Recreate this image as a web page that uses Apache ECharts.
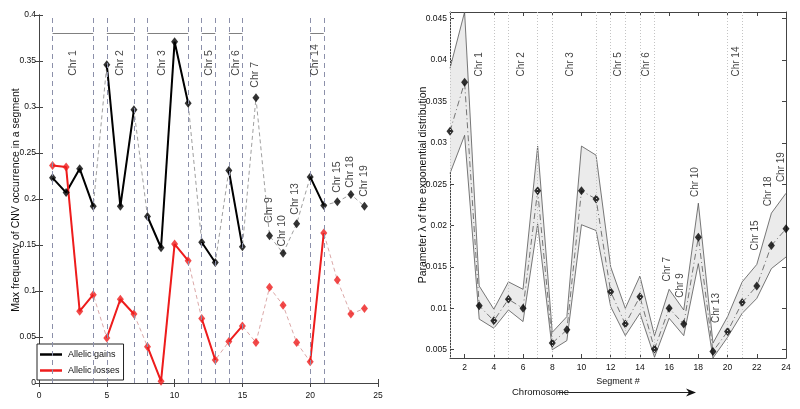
<!DOCTYPE html>
<html><head><meta charset="utf-8">
<script src="https://cdn.jsdelivr.net/npm/echarts@6/dist/echarts.min.js"></script>
<style>html,body{margin:0;padding:0;background:#fff}#c{width:800px;height:409px}</style>
</head><body><div id="c"></div>
<script>
// ---------- DATA ----------
const segments = [1,2,3,4,5,6,7,8,9,10,11,12,13,14,15,16,17,18,19,20,21,22,23,24];
const gainsFreq = [0.223,0.207,0.233,0.192,0.346,0.192,0.297,0.181,0.147,0.371,0.304,0.153,0.131,0.231,0.148,0.310,0.160,0.141,0.173,0.224,0.193,0.197,0.205,0.192];
const lossesFreq = [0.2365,0.2347,0.078,0.096,0.049,0.091,0.075,0.0395,0.002,0.151,0.133,0.070,0.025,0.045,0.062,0.044,0.104,0.0845,0.044,0.023,0.163,0.112,0.075,0.081];
const lambdaMean  = [0.0314,0.0373,0.0103,0.0085,0.0111,0.0100,0.0242,0.0058,0.0074,0.0242,0.0232,0.0120,0.0081,0.0114,0.0051,0.0100,0.0081,0.0186,0.0048,0.0072,0.0107,0.0127,0.0176,0.0196];
const lambdaUpper = [0.0390,0.0458,0.0127,0.0099,0.0132,0.0123,0.0296,0.0071,0.0090,0.0296,0.0285,0.0150,0.0100,0.0139,0.0067,0.0123,0.0098,0.0227,0.0058,0.0090,0.0132,0.0153,0.0215,0.0239];
const lambdaLower = [0.0263,0.0309,0.0087,0.0076,0.0098,0.0084,0.0202,0.0050,0.0061,0.0201,0.0194,0.0102,0.0067,0.0094,0.0041,0.0088,0.0067,0.0154,0.0040,0.0065,0.0094,0.0112,0.0148,0.0162];
const chrBoundaries = [1,4,5,7,8,11,12,13,14,15,20,21];
const groupStart = [1,5,8,12,14,20];
const groupEnd   = [4,7,11,13,15,21];
const groupNames = ['Chr 1','Chr 2','Chr 3','Chr 5','Chr 6','Chr 14'];
const singleSegs  = [16,17,18,19,22,23,24];
const singleNames = ['Chr 7','Chr 9','Chr 10','Chr 13','Chr 15','Chr 18','Chr 19'];
const leftYTicks = [0,0.05,0.1,0.15,0.2,0.25,0.3,0.35,0.4];
const leftXTicks = [0,5,10,15,20,25];
const rightXTicks = [2,4,6,8,10,12,14,16,18,20,22,24];
const rightYTicks = [0.005,0.01,0.015,0.02,0.025,0.03,0.035,0.04,0.045];

// annotation anchors (data units)
const leftGroupLabelX = [2.49,5.98,9.06,12.55,14.53,20.38];
const leftGroupLabelY = 0.334;
const leftSingleLabel = [[15.97,0.321],[16.94,0.174],[17.92,0.1483],[18.9,0.183],[21.98,0.2067],[22.97,0.2122],[24.0,0.2024]];
const rightGroupLabelX = [3.03,5.89,9.2,12.5,14.45,20.6];
const rightGroupLabelY = 0.038;
const rightSingleLabel = [[15.87,0.01325],[16.78,0.01128],[17.81,0.02344],[19.25,0.00822],[21.88,0.017],[22.79,0.02232],[23.7,0.02525]];

// ---------- BUILD ----------
const FONT = "'Liberation Sans Narrow','Liberation Sans',Arial,sans-serif";
const pairs = (vals) => segments.map((x,i)=>[x, vals[i]]);
function grouped(vals){
  const out=[];
  groupStart.forEach((s,g)=>{
    for(let x=s;x<=groupEnd[g];x++) out.push([x, vals[x-1]]);
    out.push([groupEnd[g]+0.5, null]);
  });
  return out;
}
const RED = '#ee1c1c';
const axisCol = '#444';
const TICKFS = 8.5;
const tickInside = {show:true, inside:true, length:4, lineStyle:{color:axisCol}};
const labelText = () => ({show:true, position:'top', distance:0, rotate:90, align:'left', verticalAlign:'middle',
  formatter: p=>p.name, color:'#111', fontSize:10.5, fontFamily:FONT});

const option = {
  animation:false,
  backgroundColor:'#fff',
  grid:[
    {left:39, top:15, width:339, height:368, outerBoundsMode:'none', containLabel:false},
    {left:450, top:12, width:336, height:346, outerBoundsMode:'none', containLabel:false}
  ],
  xAxis:[
    {type:'value', gridIndex:0, min:0, max:25, interval:5, axisLine:{show:true,lineStyle:{color:axisCol}}, axisTick:tickInside,
      axisLabel:{color:'#111', fontSize:TICKFS, fontFamily:FONT, margin:8}, splitLine:{show:false}},
    {type:'value', gridIndex:0, position:'top', min:0, max:25, interval:5, axisLine:{show:true,lineStyle:{color:axisCol}}, axisTick:tickInside,
      axisLabel:{show:false}, splitLine:{show:false}},
    {type:'value', gridIndex:1, min:1, max:24, axisLine:{show:true,lineStyle:{color:axisCol}},
      axisTick:Object.assign({customValues:rightXTicks}, tickInside),
      axisLabel:{customValues:rightXTicks, color:'#111', fontSize:TICKFS, fontFamily:FONT, margin:5}, splitLine:{show:false},
      name:'Segment #', nameLocation:'middle', nameGap:15, nameTextStyle:{color:'#111', fontSize:9, fontFamily:FONT}},
    {type:'value', gridIndex:1, position:'top', min:1, max:24, axisLine:{show:true,lineStyle:{color:axisCol}},
      axisTick:Object.assign({customValues:rightXTicks}, tickInside), axisLabel:{show:false}, splitLine:{show:false}}
  ],
  yAxis:[
    {type:'value', gridIndex:0, min:0, max:0.4, interval:0.05, axisLine:{show:true,lineStyle:{color:axisCol}}, axisTick:tickInside,
      axisLabel:{color:'#111', fontSize:TICKFS, fontFamily:FONT, margin:3}, splitLine:{show:false}},
    {type:'value', gridIndex:0, position:'right', min:0, max:0.4, interval:0.05, axisLine:{show:true,lineStyle:{color:axisCol}}, axisTick:tickInside,
      axisLabel:{show:false}, splitLine:{show:false}},
    {type:'value', gridIndex:1, min:0.004, max:0.0458, axisLine:{show:true,lineStyle:{color:axisCol}},
      axisTick:Object.assign({customValues:rightYTicks}, tickInside),
      axisLabel:{customValues:rightYTicks, color:'#111', fontSize:TICKFS, fontFamily:FONT, margin:3}, splitLine:{show:false}},
    {type:'value', gridIndex:1, position:'right', min:0.004, max:0.0458, axisLine:{show:true,lineStyle:{color:axisCol}},
      axisTick:Object.assign({customValues:rightYTicks}, tickInside), axisLabel:{show:false}, splitLine:{show:false}}
  ],
  legend:{
    left:37, top:344, orient:'vertical', data:['Allelic gains','Allelic losses'], icon:'rect',
    itemWidth:22, itemHeight:2.5, itemGap:7, borderColor:'#222', borderWidth:1, backgroundColor:'#fff',
    padding:[6,4,5,3], textStyle:{fontSize:9, color:'#111', fontFamily:FONT, padding:[0,0,0,1]}, selectedMode:false
  },
  graphic:[
    {type:'text', x:16, y:200, rotation:Math.PI/2, style:{text:'Max frequency of CNV occurrence in a segment', align:'center', verticalAlign:'middle', fill:'#111', font:'10.5px '+FONT}},
    {type:'text', x:423, y:185, rotation:Math.PI/2, style:{text:'Parameter λ of the exponential distribution', align:'center', verticalAlign:'middle', fill:'#111', font:'10.5px '+FONT}},
    {type:'text', x:512, y:392, style:{text:'Chromosome', align:'left', verticalAlign:'middle', fill:'#111', font:'9.5px '+FONT}},
    {type:'line', shape:{x1:558, y1:392.5, x2:692, y2:392.5}, style:{stroke:'#222', lineWidth:1}},
    {type:'polygon', shape:{points:[[686,388.5],[696,392.5],[686,396.5],[689,392.5]]}, style:{fill:'#111'}}
  ],
  series:[
    // ---- left chart ----
    {name:'gainsLink', type:'line', xAxisIndex:0, yAxisIndex:0, data:pairs(gainsFreq), symbol:'none', z:2,
      lineStyle:{color:'#a0a0a0', width:1, type:[4,3]},
      markLine:{silent:true, symbol:'none', label:{show:false}, animation:false,
        lineStyle:{color:'#8c90aa', width:1, type:[5,4]},
        data: chrBoundaries.map(x=>({xAxis:x})) }},
    {name:'brackets', type:'line', xAxisIndex:0, yAxisIndex:0, data:[], symbol:'none', z:2,
      markLine:{silent:true, symbol:'none', label:{show:false}, animation:false,
        lineStyle:{color:'#808080', width:1, type:'solid'},
        data: groupStart.map((s,g)=>[{coord:[s,0.38]},{coord:[groupEnd[g],0.38]}]) }},
    {name:'lossesLink', type:'line', xAxisIndex:0, yAxisIndex:0, data:pairs(lossesFreq), symbol:'none', z:2,
      lineStyle:{color:'#dba8a8', width:1, type:[4,3]}},
    {name:'Allelic gains', type:'line', xAxisIndex:0, yAxisIndex:0, data:grouped(gainsFreq), symbol:'none', z:3,
      connectNulls:false, color:'#000', lineStyle:{color:'#000', width:2}},
    {name:'Allelic losses', type:'line', xAxisIndex:0, yAxisIndex:0, data:grouped(lossesFreq), symbol:'none', z:3,
      connectNulls:false, color:RED, lineStyle:{color:RED, width:2}},
    {name:'gainsPts', type:'scatter', xAxisIndex:0, yAxisIndex:0, data:pairs(gainsFreq), symbol:'diamond', symbolSize:[7,9], z:4,
      itemStyle:{color:'#000'}},
    {name:'lossesPts', type:'scatter', xAxisIndex:0, yAxisIndex:0, data:pairs(lossesFreq), symbol:'diamond', symbolSize:[7,9], z:4,
      itemStyle:{color:RED}},
    {name:'leftLabels', type:'scatter', xAxisIndex:0, yAxisIndex:0, symbolSize:0, z:5, silent:true,
      data: groupNames.map((n,g)=>({name:n, value:[leftGroupLabelX[g], leftGroupLabelY]}))
        .concat(singleNames.map((n,i)=>({name:n, value:leftSingleLabel[i]}))),
      label: labelText()},
    // ---- right chart ----
    {name:'rightGrid', type:'line', xAxisIndex:2, yAxisIndex:2, data:[], symbol:'none', z:1,
      markLine:{silent:true, symbol:'none', label:{show:false}, animation:false,
        lineStyle:{color:'#c4c4c4', width:1, type:[1,2]},
        data: chrBoundaries.map(x=>({xAxis:x})) }},
    {name:'band', type:'custom', xAxisIndex:2, yAxisIndex:2, z:2, clip:true, silent:true,
      data:[[segments[0], lambdaMean[0]]],
      renderItem:(params, api)=>{
        const top = segments.map((x,i)=>api.coord([x, lambdaUpper[i]]));
        const bot = segments.map((x,i)=>api.coord([x, lambdaLower[i]])).reverse();
        return {type:'polygon', shape:{points:top.concat(bot)}, style:{fill:'#ebebeb', stroke:null}};
      }},
    {name:'upperEdge', type:'line', xAxisIndex:2, yAxisIndex:2, data:pairs(lambdaUpper), symbol:'none', z:3,
      lineStyle:{color:'#555', width:0.8}},
    {name:'lowerEdge', type:'line', xAxisIndex:2, yAxisIndex:2, data:pairs(lambdaLower), symbol:'none', z:3,
      lineStyle:{color:'#555', width:0.8}},
    {name:'meanLine', type:'line', xAxisIndex:2, yAxisIndex:2, data:pairs(lambdaMean), symbol:'none', z:3,
      lineStyle:{color:'#555', width:0.8, type:[6,3,1,3]}},
    {name:'meanPts', type:'scatter', xAxisIndex:2, yAxisIndex:2, data:pairs(lambdaMean), symbol:'diamond', symbolSize:[7,9], z:4,
      itemStyle:{color:'#000'}},
    {name:'rightLabels', type:'scatter', xAxisIndex:2, yAxisIndex:2, symbolSize:0, z:5, silent:true,
      data: groupNames.map((n,g)=>({name:n, value:[rightGroupLabelX[g], rightGroupLabelY]}))
        .concat(singleNames.map((n,i)=>({name:n, value:rightSingleLabel[i]}))),
      label: Object.assign(labelText(), {fontSize:10})}
  ]
};
const chart = echarts.init(document.getElementById('c'), null, {renderer:'canvas'});
chart.setOption(option);
</script>
</body></html>
